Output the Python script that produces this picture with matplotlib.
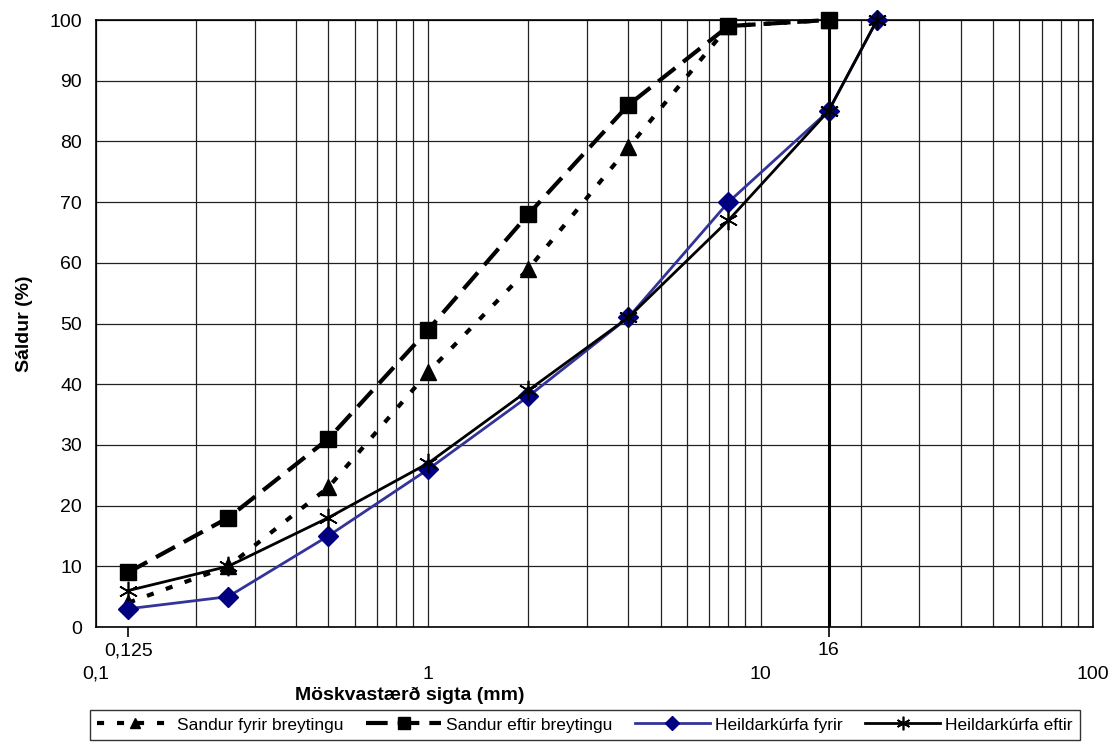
import numpy as np
import matplotlib.pyplot as plt
from matplotlib.ticker import LogLocator, NullFormatter, FixedLocator

plt.rcParams['font.family'] = ['Liberation Sans', 'DejaVu Sans']

# -----------------------------
# Data (sieve size in mm, passing %)
# -----------------------------
sieve_sandur = [0.125, 0.25, 0.5, 1, 2, 4, 8, 16]
sandur_fyrir = [4, 10, 23, 42, 59, 79, 99, 100]
sandur_eftir = [9, 18, 31, 49, 68, 86, 99, 100]

sieve_heild = [0.125, 0.25, 0.5, 1, 2, 4, 8, 16, 22.4]
heild_fyrir = [3, 5, 15, 26, 38, 51, 70, 85, 100]
heild_eftir = [6, 10, 18, 27, 39, 51, 67, 85, 100]

decade_ticks = [0.1, 1, 10, 100]
decade_labels = ["0,1", "1", "10", "100"]
special_ticks = [0.125, 16]
special_labels = ["0,125", "16"]

# -----------------------------
# Figure
# -----------------------------
fig = plt.figure(figsize=(11.2, 7.49), dpi=100)
ax = fig.add_axes([96 / 1120, 1 - 627 / 749, (1093 - 96) / 1120, (627 - 20) / 749])

ax.set_xscale("log")
ax.set_xlim(0.1, 100)
ax.set_ylim(0, 100)

# grid
ax.xaxis.set_minor_locator(LogLocator(base=10, subs=np.arange(1, 10)))
ax.xaxis.set_minor_formatter(NullFormatter())
ax.grid(which="minor", axis="x", color="#222222", linewidth=0.9)
ax.grid(which="major", axis="y", color="#222222", linewidth=0.9)
ax.set_axisbelow(True)
ax.axvline(16, color="black", linewidth=2.2, zorder=1)

# special ticks (0,125 and 16)
ax.xaxis.set_major_locator(FixedLocator(special_ticks))
ax.set_xticklabels(special_labels, fontsize=14)
ax.tick_params(axis="x", which="major", direction="out", length=7, width=1.2, pad=4)
ax.tick_params(axis="x", which="minor", length=0)

# decade labels on a secondary axis
sec = ax.secondary_xaxis("bottom")
sec.set_xticks(decade_ticks)
sec.set_xticklabels(decade_labels, fontsize=14)
sec.xaxis.set_minor_locator(FixedLocator([]))
sec.tick_params(axis="x", length=0, pad=28)
sec.spines["bottom"].set_visible(False)

ax.set_yticks(np.arange(0, 101, 10))
ax.tick_params(axis="y", length=0, pad=10, labelsize=14)

for s in ax.spines.values():
    s.set_color("black")
    s.set_linewidth(1.2)

# -----------------------------
# Series
# -----------------------------
ax.plot(sieve_sandur, sandur_fyrir, color="black", linewidth=3, linestyle=(0, (1.7, 3.1)),
        marker="^", markersize=11, label="Sandur fyrir breytingu", zorder=3,
        clip_on=False)
ax.plot(sieve_sandur, sandur_eftir, color="black", linewidth=3, linestyle=(0, (5.2, 2.4)),
        marker="s", markersize=11.5, label="Sandur eftir breytingu", zorder=3,
        clip_on=False)
ax.plot(sieve_heild, heild_fyrir, color="#333399", linewidth=2, marker="D",
        markersize=10, markerfacecolor="#000080", markeredgecolor="#000080",
        label="Heildarkúrfa fyrir", zorder=4, clip_on=False)
ax.plot(sieve_heild, heild_eftir, color="black", linewidth=2, marker=(6, 2, 0),
        markersize=14, markeredgewidth=1.2, label="Heildarkúrfa eftir", zorder=5,
        clip_on=False)

ax.set_ylabel("Sáldur (%)", fontsize=14, fontweight="bold", labelpad=12)
fig.text(410 / 1120, 1 - 695 / 749, "Möskvastærð sigta (mm)", fontsize=14,
         fontweight="bold", ha="center", va="center")

leg = fig.legend(loc="center", bbox_to_anchor=(585 / 1120, 1 - 725 / 749), ncol=4,
                 frameon=True, fancybox=False, edgecolor="black", fontsize=12.5,
                 handlelength=4.3, columnspacing=1.3, handletextpad=0.3,
                 borderpad=0.45, markerscale=0.7)
leg.get_frame().set_linewidth(1)

fig.savefig("out.png", dpi=100)
